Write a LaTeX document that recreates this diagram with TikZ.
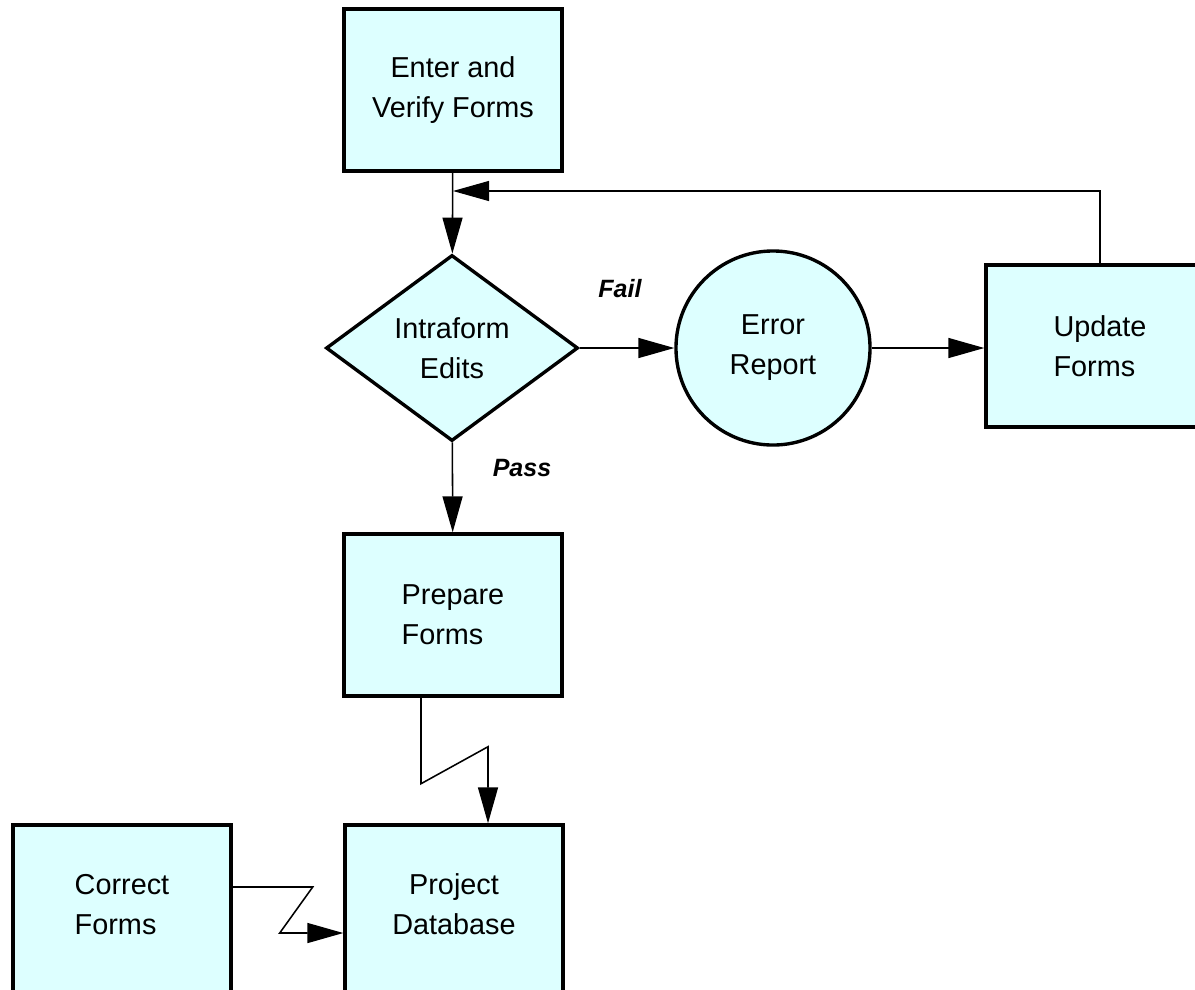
\documentclass[tikz,border=0pt]{standalone}
\usepackage{fontspec}
\setmainfont{Liberation Sans}
\usetikzlibrary{shapes.geometric,arrows.meta}
\definecolor{formfill}{HTML}{DDFFFF}
\tikzset{
	formbox/.style={draw, line width=2.4pt, fill=formfill, inner sep=0pt,
		minimum width=5.45cm, minimum height=4.05cm,
		font=\fontsize{20.5}{28.5}\selectfont},
	decide/.style={formbox, diamond, minimum width=6.3cm, minimum height=4.65cm},
	report/.style={formbox, circle, minimum size=4.85cm},
	flow/.style={line width=1.1pt, -{Triangle[length=0.9cm, width=0.5cm]}},
	outcome/.style={font=\fontsize{17.8}{20}\selectfont\bfseries\itshape}
}
\begin{document}
\begin{tikzpicture}[x=0.025cm, y=-0.025cm]
	\useasboundingbox (0,0) rectangle (1195,989);

	\node[formbox, align=center] (enter)  at (453,90)   {Enter and\\Verify Forms};
	\node[decide, align=center]  (intra)  at (452,348)  {Intraform\\Edits};
	\node[report, align=center]  (err)    at (773,348)  {Error\\Report};
	\node[formbox, align=left, minimum width=5.7cm] (update) at (1100,346) {Update\\Forms};
	\node[formbox, align=left]   (prep)   at (453,615)  {Prepare\\Forms};
	\node[formbox, align=center, minimum height=4.4cm, text depth=0.45cm] (proj) at (454,913) {Project\\Database};
	\node[formbox, align=left, minimum height=4.4cm, text depth=0.45cm]   (corr) at (122,913) {Correct\\Forms};

	\node[outcome] (fail) at (620,289) {Fail};
	\node[outcome] (pass) at (522,468) {Pass};

	\draw[flow] (enter) -- (intra);
	\draw[flow] (intra) -- (err);
	\draw[flow] (err) -- (err -| update.west);
	\draw[flow] (intra) -- (prep);
	\draw[flow, line width=0.8pt] (update.north) |- (enter.south |- 0,191);

	% broken links into the database
	\draw[flow] ([xshift=-0.8cm]prep.south) -- ++(0,86) -- ++(67,-37)
		-- ([xshift=0.85cm]proj.north);
	\draw[flow] (corr.east |- 0,887) -- ++(80,0) -- ++(-33,46)
		-- (proj.west |- 0,933);
\end{tikzpicture}
\end{document}
